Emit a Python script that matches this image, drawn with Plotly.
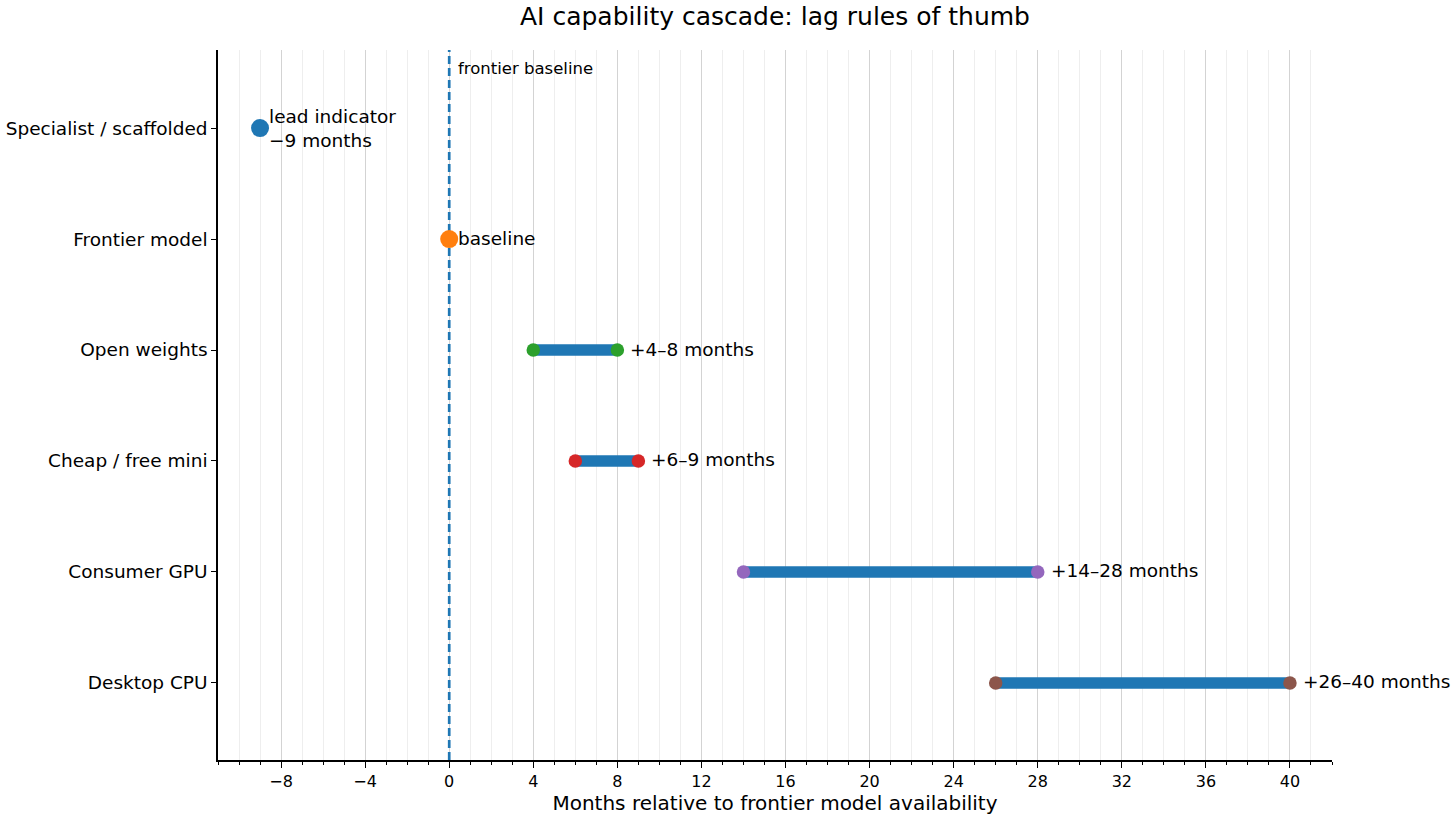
import plotly.graph_objects as go

categories = ["Specialist / scaffolded", "Frontier model", "Open weights",
              "Cheap / free mini", "Consumer GPU", "Desktop CPU"]
lag_low = [-9, 0, 4, 6, 14, 26]
lag_high = [None, None, 8, 9, 28, 40]
point_colors = ["#1f77b4", "#ff7f0e", "#2ca02c", "#d62728", "#9467bd", "#8c564b"]
range_labels = [None, None, "+4–8 months", "+6–9 months", "+14–28 months", "+26–40 months"]
x_ticks = list(range(-8, 41, 4))
baseline_x = 0

FONT = "DejaVu Sans"
LBL = 18.5
fig = go.Figure()

# baseline dashed line on the (invisible) base 0..1 axis, so the category layer draws over it
fig.add_trace(go.Scatter(x=[baseline_x, baseline_x], y=[0, 1], yaxis="y", mode="lines",
                         line=dict(color="#1f77b4", width=2.7, dash="8px,4px"),
                         showlegend=False, hoverinfo="skip"))

for cat, lo, hi, col, lab in zip(categories, lag_low, lag_high, point_colors, range_labels):
    if hi is not None:
        fig.add_trace(go.Scatter(x=[lo, hi], y=[cat, cat], yaxis="y2", mode="lines",
                                 line=dict(color="#1f77b4", width=11.5),
                                 showlegend=False, hoverinfo="skip"))
        fig.add_trace(go.Scatter(x=[lo, hi], y=[cat, cat], yaxis="y2", mode="markers",
                                 marker=dict(color=col, size=13.5),
                                 showlegend=False))
        fig.add_annotation(x=hi, y=cat, yref="y2", text=lab, showarrow=False,
                           xanchor="left", xshift=11, yshift=1,
                           font=dict(family=FONT, size=LBL, color="black"))
    else:
        fig.add_trace(go.Scatter(x=[lo], y=[cat], yaxis="y2", mode="markers",
                                 marker=dict(color=col, size=18),
                                 showlegend=False))

fig.add_annotation(x=lag_low[0], y=categories[0], yref="y2", text="lead indicator<br>−9 months",
                   showarrow=False, xanchor="left", align="left", xshift=7, yshift=0,
                   font=dict(family=FONT, size=LBL, color="black"))
fig.add_annotation(x=lag_low[1], y=categories[1], yref="y2", text="baseline",
                   showarrow=False, xanchor="left", xshift=7, yshift=1,
                   font=dict(family=FONT, size=LBL, color="black"))
fig.add_annotation(x=baseline_x, y=1, xref="x", yref="paper", text="frontier baseline",
                   showarrow=False, xanchor="left", yanchor="top", xshift=7, yshift=-7,
                   font=dict(family=FONT, size=16.5, color="black"))

fig.update_layout(
    width=1456, height=820,
    margin=dict(l=218, r=124, t=50, b=60, autoexpand=False),
    paper_bgcolor="white", plot_bgcolor="white",
    font=dict(family=FONT, color="black"),
    title=dict(text="AI capability cascade: lag rules of thumb", x=0.5, xref="paper",
               xanchor="center", y=1 - 16 / 820, yref="container", yanchor="middle",
               font=dict(family=FONT, size=25, color="black")),
    xaxis=dict(range=[-11, 42], tickvals=x_ticks, automargin=False,
               ticktext=[("−" + str(-v)) if v < 0 else str(v) for v in x_ticks],
               showgrid=True, gridcolor="#d3d3d3", gridwidth=1,
               ticks="outside", ticklen=6, tickwidth=1.2, tickcolor="black",
               showline=True, linecolor="black", linewidth=1.5,
               zeroline=False, tickfont=dict(family=FONT, size=16),
               title=dict(text="Months relative to frontier model availability",
                          font=dict(family=FONT, size=20), standoff=6),
               minor=dict(dtick=1, tick0=0, showgrid=True, gridcolor="#eeeeee",
                          gridwidth=1, ticks="outside", ticklen=3, tickcolor="black")),
    yaxis=dict(range=[0, 1], showticklabels=False, ticks="", showgrid=False,
               zeroline=False, automargin=False, showline=False),
    yaxis2=dict(type="category", categoryorder="array", categoryarray=categories,
                overlaying="y", side="left",
                range=[5.694, -0.703], showgrid=False, zeroline=False, automargin=False,
                ticks="outside", ticklen=5, tickwidth=1.2, tickcolor="black",
                showline=True, linecolor="black", linewidth=1.5,
                tickfont=dict(family=FONT, size=LBL)),
)

fig.write_html("out.html", config={"displayModeBar": False},
               post_script="document.body.style.margin='0';document.body.style.overflow='hidden';")
